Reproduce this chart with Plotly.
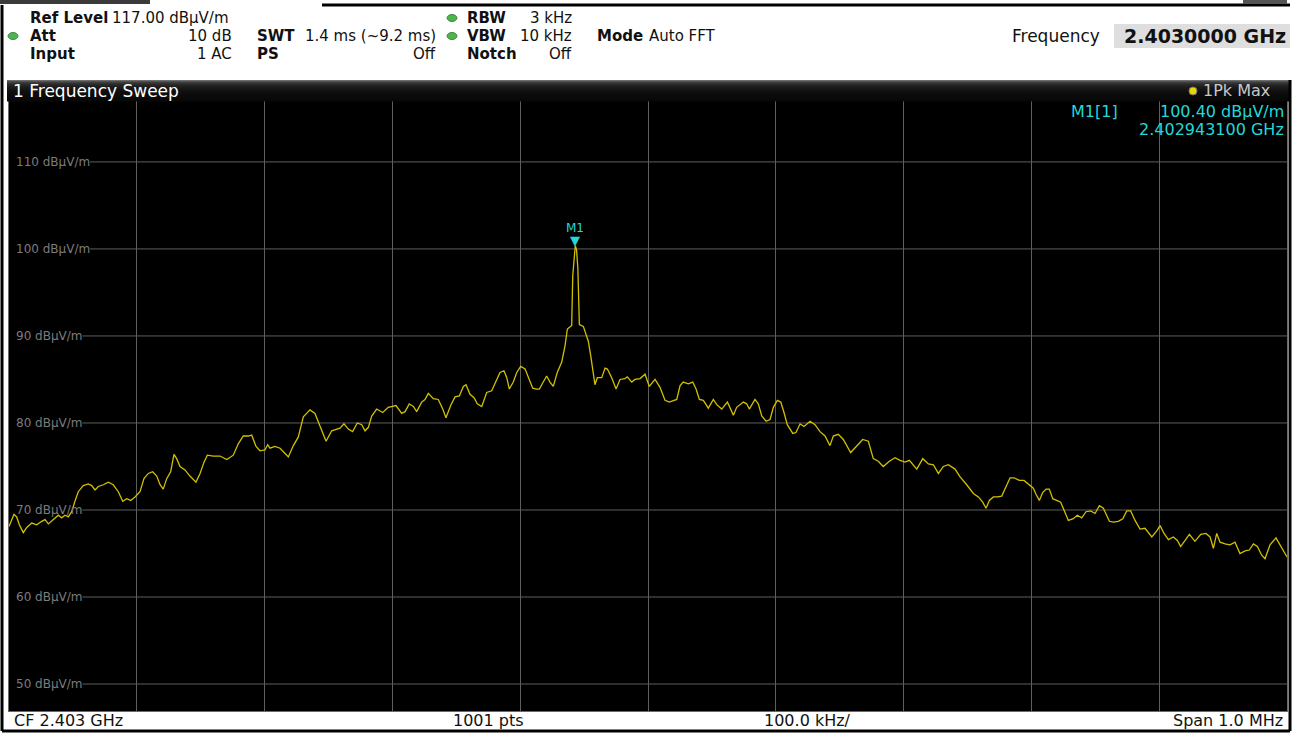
import plotly.graph_objects as go

# ---------------- data ----------------
start_ghz = 2.4025
span_khz = 1000
y_ticks = [110, 100, 90, 80, 70, 60, 50]
ref_level = 117.0
bottom_level = 46.9
x_div_khz = 100

freq_khz = [0, 3.9, 6.0, 8.1, 11.2, 13.9, 17.8, 21.7, 25.6, 28.2, 30.8, 34.7, 38.6, 41.2, 43.8, 46.4, 49.1,
            51.6, 54.2, 58.1, 62.1, 64.7, 67.3, 69.9, 73.8, 77.7, 81.6, 85.5, 89.0, 92.1, 95.2, 98.6, 102.5,
            105.6, 109.0, 112.4, 115.6, 118.2, 120.7, 123.4, 126.5, 129.1, 131.2, 133.8, 137.7, 141.6, 146.3,
            149.5, 152.6, 155.2, 159.9, 165.1, 170.4, 175.5, 179.4, 183.3, 187.3, 189.9, 193.3, 196.4, 200.3,
            202.4, 204.2, 208.1, 212.1, 216.0, 218.6, 222.5, 226.4, 230.3, 235.5, 239.4, 243.4, 248.1, 252.5,
            256.4, 259.0, 262.1, 265.5, 268.9, 272.5, 276.0, 278.6, 281.2, 283.8, 287.7, 292.4, 296.8, 300.2,
            302.8, 307.3, 309.9, 313.2, 316.4, 319.0, 322.9, 325.5, 328.1, 332.0, 335.9, 339.4, 341.9, 345.6,
            349.0, 352.4, 355.5, 357.6, 360.7, 363.9, 366.4, 369.9, 373.8, 377.7, 380.3, 384.2, 387.3, 389.5,
            391.5, 394.6, 397.3, 400.4, 403.8, 407.1, 409.8, 412.9, 415.0, 417.6, 420.7, 423.3, 425.9, 429.0,
            432.5, 435.1, 436.9, 440.3, 441.1, 443.1, 444.1, 445.1, 446.3, 449.4, 451.5, 453.3, 455.2, 457.2,
            458.5, 460.3, 463.8, 466.4, 468.2, 471.6, 475.0, 478.1, 482.0, 483.8, 487.3, 489.8, 493.8, 497.7,
            501.0, 505.5, 509.4, 513.3, 516.7, 522.5, 525.1, 527.6, 531.6, 535.0, 537.6, 540.2, 543.3, 547.2,
            551.1, 553.8, 557.7, 562.1, 564.7, 566.8, 569.4, 574.6, 577.2, 579.3, 583.7, 586.3, 589.0, 592.4,
            595.5, 598.1, 601.2, 603.9, 606.4, 609.0, 613.3, 615.8, 619.0, 622.1, 626.8, 630.7, 634.6, 638.5,
            642.4, 645.0, 648.9, 652.8, 658.6, 663.3, 668.0, 672.4, 676.3, 680.2, 684.1, 688.8, 693.3, 697.2,
            701.1, 704.5, 710.3, 715.0, 719.4, 723.3, 727.2, 731.1, 735.0, 740.2, 744.2, 749.4, 754.6, 758.5,
            761.9, 764.5, 767.1, 770.2, 773.3, 776.8, 780.1, 783.3, 786.4, 790.5, 794.2, 797.6, 801.5, 803.6,
            806.2, 808.8, 811.5, 814.0, 816.7, 819.8, 822.9, 825.5, 828.9, 832.8, 835.9, 839.4, 842.7, 846.4,
            849.8, 853.2, 856.3, 861.0, 864.1, 868.0, 871.5, 874.6, 877.7, 881.1, 885.0, 888.9, 894.2, 898.1,
            900.7, 903.8, 907.2, 911.1, 914.2, 916.8, 920.2, 923.6, 928.0, 932.5, 936.6, 939.8, 942.4, 945.0,
            947.6, 951.5, 955.4, 959.3, 963.2, 967.2, 970.5, 973.7, 976.8, 980.2, 982.8, 986.7, 991.4, 995.9,
            1000]

level_dbuv = [68.1, 69.5, 69.2, 68.3, 67.4, 68.0, 68.5, 68.3, 68.7, 68.9, 68.4, 68.9, 69.4, 69.1, 69.4, 69.2, 69.8,
              71.0, 72.1, 72.8, 73.0, 72.8, 72.3, 72.7, 72.9, 73.2, 72.9, 72.1, 71.0, 71.3, 71.1, 71.5, 72.1,
              73.6, 74.2, 74.4, 73.9, 72.9, 72.4, 73.6, 74.4, 76.4, 75.9, 75.0, 74.6, 73.9, 73.2,
              74.2, 75.5, 76.3, 76.2, 76.2, 75.8, 76.3, 77.6, 78.5, 78.5, 78.6, 77.3, 76.8, 76.9,
              77.5, 77.1, 77.3, 77.1, 76.5, 76.1, 77.4, 78.4, 80.7, 81.5, 81.1, 79.6, 77.9, 79.1,
              79.3, 79.4, 79.9, 79.3, 79.0, 80.0, 79.8, 79.1, 79.5, 80.8, 81.6, 81.2, 81.8, 81.9,
              82.0, 81.1, 81.3, 82.2, 81.9, 81.3, 82.4, 82.7, 83.4, 82.8, 82.7, 81.6, 80.6, 82.0,
              83.0, 83.1, 84.2, 84.4, 83.3, 82.9, 82.2, 81.9, 83.5, 83.7, 84.5, 85.8, 86.0, 85.2,
              83.9, 84.7, 85.8, 86.5, 86.2, 85.0, 84.0, 83.9, 83.9, 84.6, 85.4, 84.7, 84.2, 85.8,
              87.0, 88.9, 90.8, 91.2, 96.9, 100.4, 99.9, 97.8, 91.3, 91.1, 90.2, 89.4, 87.7, 85.4,
              84.4, 85.2, 85.2, 86.3, 86.2, 85.2, 83.9, 85.0, 85.1, 85.3, 84.7, 85.0, 85.1, 85.6,
              84.2, 85.0, 84.1, 82.6, 82.4, 82.7, 84.3, 84.7, 84.5, 84.7, 83.9, 82.7, 82.6, 81.7,
              82.7, 82.1, 81.6, 82.4, 81.6, 80.9, 81.8, 82.4, 82.2, 81.6, 82.7, 82.2, 80.8, 80.2,
              80.4, 81.8, 82.6, 82.4, 81.2, 79.8, 78.8, 78.9, 79.9, 79.6, 80.2, 79.8, 79.0, 78.5,
              77.4, 78.5, 78.7, 78.1, 76.6, 77.4, 78.1, 77.9, 75.9, 75.6, 75.0, 75.6, 76.0, 75.7,
              75.5, 75.7, 74.7, 75.9, 75.3, 75.2, 74.2, 75.0, 75.2, 74.7, 73.8, 72.9, 71.9, 71.5,
              70.9, 70.2, 71.1, 71.5, 71.5, 71.6, 72.7, 73.7, 73.7, 73.4, 73.4, 73.0, 72.5, 71.8,
              71.1, 72.0, 72.4, 72.4, 71.3, 71.1, 70.9, 70.0, 68.8, 69.0, 69.4, 69.1, 69.8, 69.9,
              69.6, 70.5, 70.2, 68.7, 68.6, 68.7, 69.0, 69.9, 69.9, 68.8, 67.8, 67.9, 66.9, 67.6,
              68.2, 67.3, 66.6, 66.9, 66.5, 65.8, 66.5, 67.2, 66.4, 67.2, 67.3, 66.9, 65.6, 67.3,
              66.3, 66.1, 66.0, 66.3, 65.0, 65.3, 65.4, 66.1, 65.8, 64.8, 64.4, 66.0, 66.8, 65.6,
              64.6]

marker_name = "M1"
marker_khz = 443.1
marker_level = 100.40
marker_freq_text = "2.402943100 GHz"

header_rows = [
    # text, x px, y px, anchor, bold
    ("Ref Level", 28, 18, "left", True), ("117.00 dBµV/m", 110, 18, "left", False),
    ("Att", 28, 36, "left", True), ("10 dB", 234, 36, "right", False),
    ("SWT", 255, 36, "left", True), ("1.4 ms (~9.2 ms)", 438, 36, "right", False),
    ("Input", 28, 54, "left", True), ("1 AC", 234, 54, "right", False),
    ("PS", 255, 54, "left", True), ("Off", 438, 54, "right", False),
    ("RBW", 465, 18, "left", True), ("3 kHz", 574, 18, "right", False),
    ("VBW", 465, 36, "left", True), ("10 kHz", 574, 36, "right", False),
    ("Notch", 465, 54, "left", True), ("Off", 574, 54, "right", False),
    ("Mode", 595, 36, "left", True), ("Auto FFT", 647, 36, "left", False),
]
footer_items = [("CF 2.403 GHz", 12, "left"), ("1001 pts", 488, "center"),
                ("100.0 kHz/", 807, "center"), ("Span 1.0 MHz", 1285, "right")]

# ---------------- geometry ----------------
W, H = 1304, 734
L, R, T, B = 9, 1287, 101, 711
FONT = "DejaVu Sans"
TRACE = "#d0c000"
CYAN = "#22d8d8"


def xp(x):
    return (x - L) / (R - L)


def yp(y):
    return (B - y) / (B - T)


fig = go.Figure()
fig.add_trace(go.Scatter(x=freq_khz, y=level_dbuv, mode="lines",
                         line=dict(color=TRACE, width=1.3), hoverinfo="skip", showlegend=False))

shapes = []
annotations = []

# horizontal grid lines that begin after their labels
for v in y_ticks:
    lab = f"{v} dBµV/m"
    start_px = 15 + len(lab) * 7.5
    shapes.append(dict(type="line", xref="paper", yref="y", x0=xp(start_px), x1=1, y0=v, y1=v,
                       line=dict(color="#5e5e5e", width=1), layer="below"))
    annotations.append(dict(text=lab, xref="paper", yref="y", x=xp(14), y=v, xanchor="left",
                            yanchor="middle", showarrow=False,
                            font=dict(family=FONT, size=12, color="#7c7c7c")))

# marker
annotations.append(dict(text="▼", x=marker_khz, y=marker_level, xref="x", yref="y", xanchor="center",
                        yanchor="bottom", showarrow=False, yshift=-5,
                        font=dict(family=FONT, size=13, color=CYAN)))
annotations.append(dict(text=marker_name, x=marker_khz, y=marker_level, xref="x", yref="y",
                        xanchor="center", yanchor="bottom", showarrow=False, yshift=8,
                        font=dict(family=FONT, size=12, color=CYAN)))

# marker info box
annotations.append(dict(text=f"{marker_name}[1]", xref="paper", yref="paper", x=xp(1069), y=yp(111),
                        xanchor="left", yanchor="middle", showarrow=False,
                        font=dict(family=FONT, size=16, color=CYAN)))
annotations.append(dict(text=f"{marker_level:.2f} dBµV/m", xref="paper", yref="paper", x=xp(1286),
                        y=yp(111), xanchor="right", yanchor="middle", showarrow=False,
                        font=dict(family=FONT, size=16, color=CYAN)))
annotations.append(dict(text=marker_freq_text, xref="paper", yref="paper", x=xp(1286), y=yp(130),
                        xanchor="right", yanchor="middle", showarrow=False,
                        font=dict(family=FONT, size=16, color=CYAN)))

# title bar with gradient (dark, lighter top edge)
bar_top, bar_bot = 80, 101
grays = [110, 80, 62, 50, 42, 36, 31, 27, 24, 21, 18, 16, 14, 13, 12, 11, 10, 10, 9, 8, 8]
n = len(grays)
for i, g in enumerate(grays):
    y0 = bar_top + (bar_bot - bar_top) * i / n
    y1 = bar_top + (bar_bot - bar_top) * (i + 1) / n + 0.6
    shapes.append(dict(type="rect", xref="paper", yref="paper", x0=xp(7), x1=xp(1290),
                       y0=yp(y1), y1=yp(y0), line=dict(width=0),
                       fillcolor=f"rgb({g},{g},{g})", layer="above"))
annotations.append(dict(text="1 Frequency Sweep", xref="paper", yref="paper", x=xp(11), y=yp(91),
                        xanchor="left", yanchor="middle", showarrow=False,
                        font=dict(family=FONT, size=17, color="white")))
annotations.append(dict(text="1Pk Max", xref="paper", yref="paper", x=xp(1272), y=yp(91),
                        xanchor="right", yanchor="middle", showarrow=False,
                        font=dict(family=FONT, size=16, color="#c8c8c8")))
shapes.append(dict(type="circle", xref="paper", yref="paper", x0=xp(1189), x1=xp(1197),
                   y0=yp(95), y1=yp(87), fillcolor="#e8d800", line=dict(color="#777", width=1)))

# header
for text, x, y, anchor, bold in header_rows:
    annotations.append(dict(text=f"<b>{text}</b>" if bold else text, xref="paper", yref="paper",
                            x=xp(x), y=yp(y), xanchor=anchor, yanchor="middle", showarrow=False,
                            font=dict(family=FONT, size=15, color="#111")))
for cx, cy in [(13, 36), (452, 18), (452, 36)]:
    shapes.append(dict(type="circle", xref="paper", yref="paper", x0=xp(cx - 5), x1=xp(cx + 5),
                       y0=yp(cy + 3.5), y1=yp(cy - 3.5), fillcolor="#4fb34f",
                       line=dict(color="#3d8a3d", width=1)))
shapes.append(dict(type="rect", xref="paper", yref="paper", x0=xp(1114), x1=xp(1290), y0=yp(48),
                   y1=yp(24), fillcolor="#dedede", line=dict(width=0), layer="below"))
annotations.append(dict(text="Frequency", xref="paper", yref="paper", x=xp(1102), y=yp(36),
                        xanchor="right", yanchor="middle", showarrow=False,
                        font=dict(family=FONT, size=17, color="#111")))
annotations.append(dict(text="<b>2.4030000 GHz</b>", xref="paper", yref="paper", x=xp(1288), y=yp(36),
                        xanchor="right", yanchor="middle", showarrow=False,
                        font=dict(family=FONT, size=19, color="#111")))

# footer
for text, x, anchor in footer_items:
    annotations.append(dict(text=text, xref="paper", yref="paper", x=xp(x), y=yp(720),
                            xanchor=anchor, yanchor="middle", showarrow=False,
                            font=dict(family=FONT, size=16, color="#111")))

# frame lines
frame = [((2, 5), (2, 731), 3), ((2, 731), (1290, 731), 3), ((1290, 80), (1290, 731), 3),
         ((322, 5), (1290, 5), 3)]
for (x0, y0), (x1, y1), w in frame:
    shapes.append(dict(type="line", xref="paper", yref="paper", x0=xp(x0), x1=xp(x1), y0=yp(y0),
                       y1=yp(y1), line=dict(color="black", width=w)))
shapes.append(dict(type="rect", xref="paper", yref="paper", x0=xp(0), x1=xp(150), y0=yp(4), y1=yp(0),
                   fillcolor="#3a3a3a", line=dict(width=0)))
shapes.append(dict(type="rect", xref="paper", yref="paper", x0=xp(1243), x1=xp(1287), y0=yp(4),
                   y1=yp(0), fillcolor="#555", line=dict(width=0)))

fig.update_layout(
    width=W, height=H,
    margin=dict(l=L, r=W - R, t=T, b=H - B, pad=0),
    paper_bgcolor="white", plot_bgcolor="black",
    xaxis=dict(range=[0, span_khz], dtick=x_div_khz, tick0=0, showticklabels=False, ticks="",
               showgrid=True, gridcolor="#5e5e5e", gridwidth=1, zeroline=False,
               showline=True, linecolor="#6a6a6a", linewidth=1, mirror=True, fixedrange=True),
    yaxis=dict(range=[bottom_level, ref_level], showticklabels=False, ticks="", showgrid=False,
               zeroline=False, showline=True, linecolor="#6a6a6a", linewidth=1, mirror=True,
               fixedrange=True),
    shapes=shapes, annotations=annotations, showlegend=False,
)

fig.write_html("out.html", config={"displayModeBar": False},
               post_script="document.body.style.margin='0';document.body.style.overflow='hidden';")
